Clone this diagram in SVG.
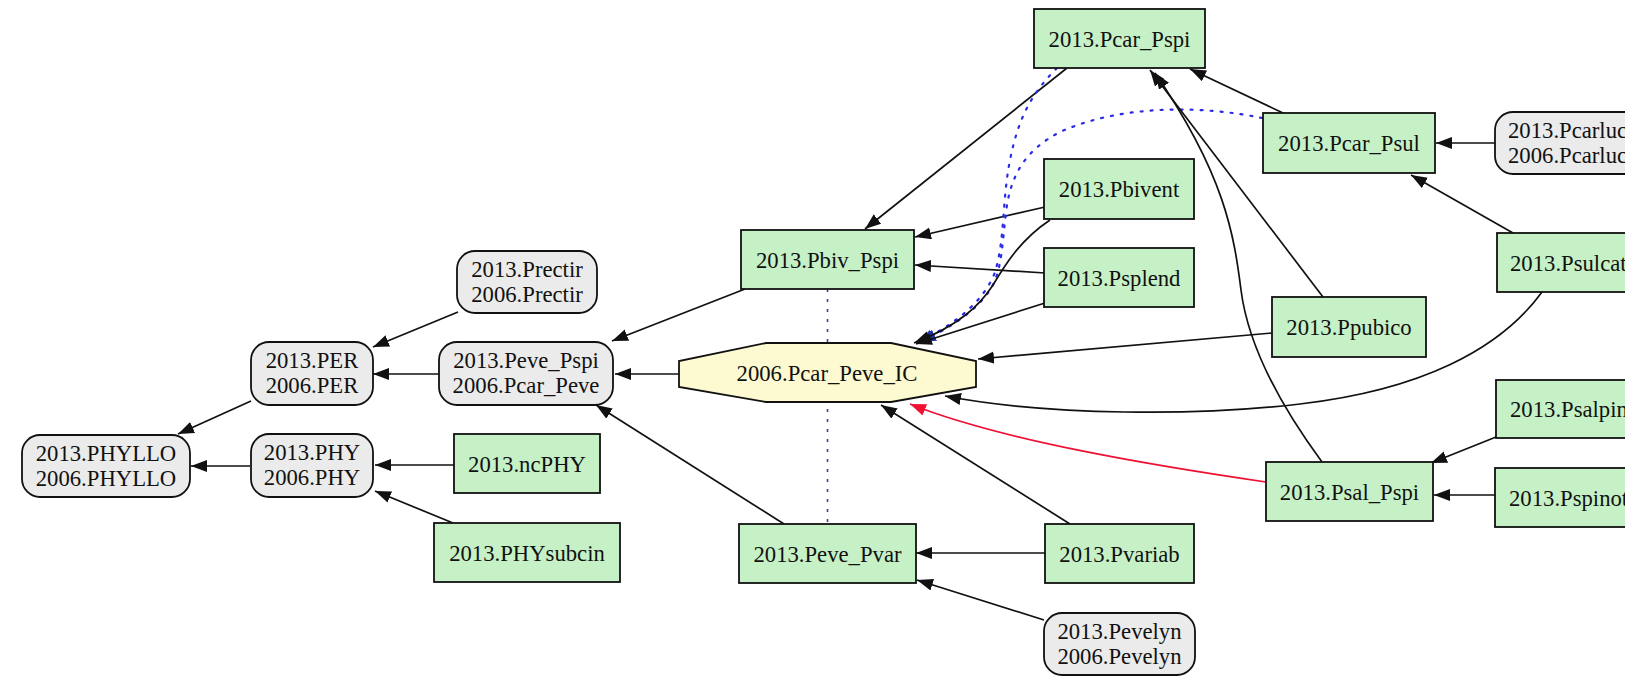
<svg xmlns="http://www.w3.org/2000/svg" width="1625" height="676" viewBox="0 0 1625 676">
<style>
.g rect{fill:#c6f1c6;stroke:#111;stroke-width:1.8}
.r rect{fill:#ebebeb;stroke:#111;stroke-width:1.8}
text{font-family:"Liberation Serif","Times New Roman",serif;font-size:22.7px;fill:#111;text-anchor:middle}
text.s{text-anchor:start}
.e{fill:none;stroke:#111;stroke-width:1.7;marker-end:url(#ab)}
.red{fill:none;stroke:#ee1133;stroke-width:1.7;marker-end:url(#ar)}
.dot{fill:none;stroke:#2a2ae6;stroke-width:2.2;stroke-dasharray:2 8;stroke-linecap:round;marker-end:url(#abl)}
.vd{fill:none;stroke:#334499;stroke-width:1.6;stroke-dasharray:3 7}
</style>
<defs>
<marker id="ab" markerWidth="18" markerHeight="14" refX="16" refY="6" orient="auto" markerUnits="userSpaceOnUse"><path d="M0,0 L16,6 L0,12 Z" fill="#111"/></marker>
<marker id="ar" markerWidth="18" markerHeight="14" refX="16" refY="6" orient="auto" markerUnits="userSpaceOnUse"><path d="M0,0 L16,6 L0,12 Z" fill="#ee1133"/></marker>
<marker id="abl" markerWidth="18" markerHeight="14" refX="16" refY="6" orient="auto" markerUnits="userSpaceOnUse"><path d="M0,0 L16,6 L0,12 Z" fill="#2233aa"/></marker>
</defs>
<rect width="1625" height="676" fill="#fff"/>
<g id="connectors">
<path class="e" d="M458,312 L373,347"/>
<path class="e" d="M439,374 L373,374"/>
<path class="e" d="M251,401 L178,434"/>
<path class="e" d="M250,466 L191,466"/>
<path class="e" d="M454,465 L375,465"/>
<path class="e" d="M453,523 L375,491"/>
<path class="e" d="M679,374 L615,374"/>
<path class="e" d="M745,289 L612,341"/>
<path class="e" d="M784,524 L596,405"/>
<path class="e" d="M1067,68 L865,229"/>
<path class="e" d="M1045,207 L915,237"/>
<path class="e" d="M1045,273 L915,265"/>
<path class="vd" d="M827.5,289 L827.5,524"/>
<path class="dot" d="M1057,68 C1030,95 1018,120 1010,160 C1002,200 1005,240 995,272 C985,300 955,325 918,342"/>
<path class="dot" d="M1262,118 C1200,105 1120,105 1060,132 C1025,150 1012,175 1007,205 C1002,240 1003,270 990,290 C975,312 950,328 920,342"/>
<path class="e" d="M1050,220 C1020,240 1005,265 993,285 C980,305 960,325 914,343"/>
<path class="e" d="M1045,303 L916,344"/>
<path class="e" d="M1272,333 L978,359"/>
<path class="e" d="M1542,292 C1500,350 1420,390 1300,404 C1200,416 1050,416 945,396"/>
<path class="red" d="M1266,482 C1150,465 1000,440 910,404"/>
<path class="e" d="M1070,524 L881,405"/>
<path class="e" d="M1045,553 L916,553"/>
<path class="e" d="M1044,620 L917,580"/>
<path class="e" d="M1283,113 L1190,69"/>
<path class="e" d="M1323,297 L1150,70"/>
<path class="e" d="M1322,462 C1280,405 1248,345 1241,290 C1234,235 1225,175 1155,73"/>
<path class="e" d="M1513,233 L1411,175"/>
<path class="e" d="M1495,143 L1436,143"/>
<path class="e" d="M1496,437 L1431,463"/>
<path class="e" d="M1495,495 L1434,495"/>
</g>
<g id="n_PHYLLO" class="r"><rect x="22" y="435" width="168" height="62" rx="18"/><text x="106" y="460.5">2013.PHYLLO</text><text x="106" y="485.5">2006.PHYLLO</text></g>
<g id="n_PER" class="r"><rect x="251" y="342" width="122" height="63" rx="18"/><text x="312" y="368">2013.PER</text><text x="312" y="393">2006.PER</text></g>
<g id="n_PHY" class="r"><rect x="251" y="434" width="122" height="63" rx="18"/><text x="312" y="460">2013.PHY</text><text x="312" y="485">2006.PHY</text></g>
<g id="n_Prectir" class="r"><rect x="457" y="251" width="140" height="62" rx="18"/><text x="527" y="276.5">2013.Prectir</text><text x="527" y="301.5">2006.Prectir</text></g>
<g id="n_Peve_Pspi" class="r"><rect x="439" y="342" width="174" height="63" rx="18"/><text x="526" y="368">2013.Peve_Pspi</text><text x="526" y="393">2006.Pcar_Peve</text></g>
<g id="n_ncPHY" class="g"><rect x="454" y="434" width="146" height="59"/><text x="527" y="471.5">2013.ncPHY</text></g>
<g id="n_PHYsubcin" class="g"><rect x="434" y="523" width="186" height="59"/><text x="527" y="560.5">2013.PHYsubcin</text></g>
<g id="n_IC"><polygon points="766,343 891,343 976,361 976,387 891,402 766,402 679,387 679,361" fill="#fdf9d0" stroke="#111" stroke-width="1.8"/><text x="827" y="380.5">2006.Pcar_Peve_IC</text></g>
<g id="n_Pbiv_Pspi" class="g"><rect x="741" y="230" width="173" height="59"/><text x="827.5" y="267.5">2013.Pbiv_Pspi</text></g>
<g id="n_Peve_Pvar" class="g"><rect x="739" y="524" width="177" height="59"/><text x="827.5" y="561.5">2013.Peve_Pvar</text></g>
<g id="n_Pcar_Pspi" class="g"><rect x="1034" y="9" width="171" height="59"/><text x="1119.5" y="46.5">2013.Pcar_Pspi</text></g>
<g id="n_Pbivent" class="g"><rect x="1044" y="159" width="150" height="60"/><text x="1119" y="197">2013.Pbivent</text></g>
<g id="n_Psplend" class="g"><rect x="1044" y="248" width="150" height="59"/><text x="1119" y="285.5">2013.Psplend</text></g>
<g id="n_Pvariab" class="g"><rect x="1045" y="524" width="149" height="59"/><text x="1119.5" y="561.5">2013.Pvariab</text></g>
<g id="n_Pevelyn" class="r"><rect x="1044" y="613" width="151" height="62" rx="18"/><text x="1119.5" y="638.5">2013.Pevelyn</text><text x="1119.5" y="663.5">2006.Pevelyn</text></g>
<g id="n_Pcar_Psul" class="g"><rect x="1263" y="113" width="172" height="60"/><text x="1349" y="151">2013.Pcar_Psul</text></g>
<g id="n_Ppubico" class="g"><rect x="1272" y="297" width="154" height="60"/><text x="1349" y="335">2013.Ppubico</text></g>
<g id="n_Psal_Pspi" class="g"><rect x="1266" y="462" width="167" height="59"/><text x="1349.5" y="499.5">2013.Psal_Pspi</text></g>
<g id="n_Pcarluc" class="r"><rect x="1495" y="112" width="160" height="62" rx="18"/><text class="s" x="1508" y="137.5">2013.Pcarluc</text><text class="s" x="1508" y="162.5">2006.Pcarluc</text></g>
<g id="n_Psulcat" class="g"><rect x="1497" y="233" width="160" height="59"/><text class="s" x="1510" y="270.5">2013.Psulcat</text></g>
<g id="n_Psalpin" class="g"><rect x="1496" y="380" width="160" height="58"/><text class="s" x="1510" y="417">2013.Psalpin</text></g>
<g id="n_Pspinot" class="g"><rect x="1495" y="468" width="160" height="59"/><text class="s" x="1509" y="505.5">2013.Pspinot</text></g>
</svg>
